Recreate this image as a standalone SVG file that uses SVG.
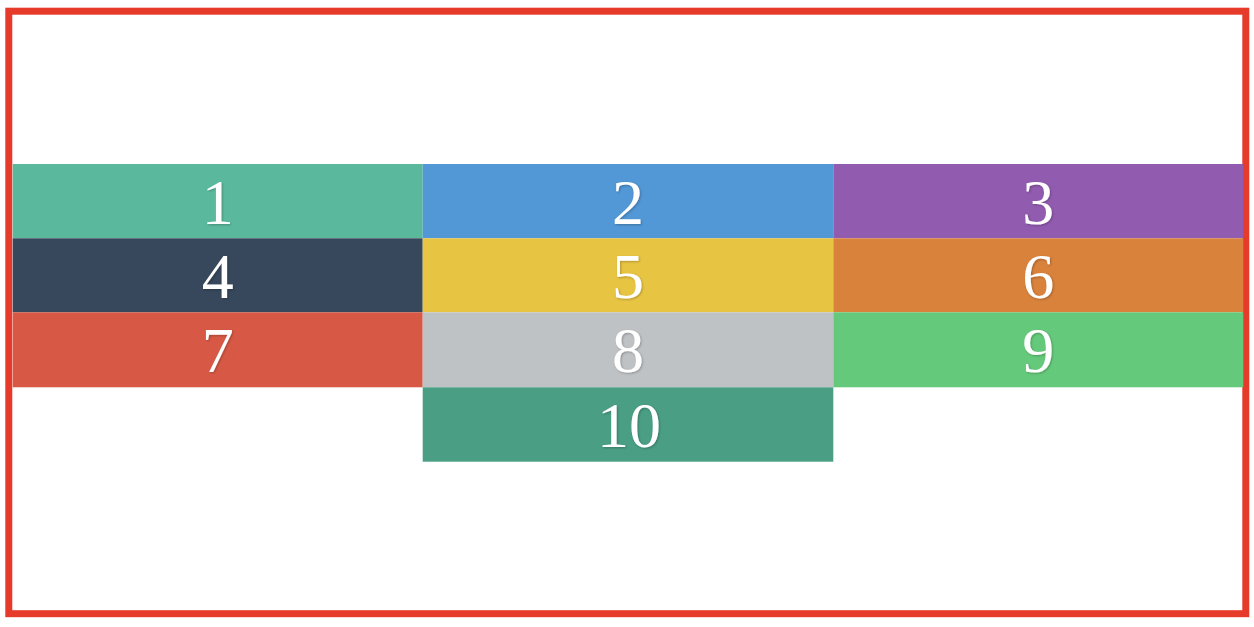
<svg xmlns="http://www.w3.org/2000/svg" width="1254" height="627" viewBox="0 0 1254 627">
  <defs>
    <style>
      .lbl { font-family: "Liberation Serif", "Times New Roman", serif; font-size: 64px; fill: #ffffff; text-anchor: middle; filter: url(#sh); }
    </style>
    <filter id="sh" x="-20%" y="-20%" width="140%" height="140%">
      <feDropShadow dx="1" dy="1" stdDeviation="0.8" flood-color="#000000" flood-opacity="0.25"/>
    </filter>
  </defs>
  <rect width="1254" height="627" fill="#ffffff"/>
  <rect id="frame" x="8.8" y="11.2" width="1237" height="602.5" fill="none" stroke="#e63a2a" stroke-width="7"/>
  <g id="n1"><rect x="12.7" y="164" width="410" height="74.3" fill="#5ab99d"/><text class="lbl" x="217.7" y="223.5">1</text></g>
  <g id="n2"><rect x="422.7" y="164" width="410.6" height="74.3" fill="#5297d6"/><text class="lbl" x="628" y="223.5">2</text></g>
  <g id="n3"><rect x="833.3" y="164" width="410" height="74.3" fill="#915bb0"/><text class="lbl" x="1038.3" y="223.5">3</text></g>
  <g id="n4"><rect x="12.7" y="238.3" width="410" height="74" fill="#37475c"/><text class="lbl" x="217.7" y="297.5">4</text></g>
  <g id="n5"><rect x="422.7" y="238.3" width="410.6" height="74" fill="#e8c443"/><text class="lbl" x="628" y="297.5">5</text></g>
  <g id="n6"><rect x="833.3" y="238.3" width="410" height="74" fill="#d8823c"/><text class="lbl" x="1038.3" y="297.5">6</text></g>
  <g id="n7"><rect x="12.7" y="312.3" width="410" height="75" fill="#d75945"/><text class="lbl" x="217.7" y="372">7</text></g>
  <g id="n8"><rect x="422.7" y="312.3" width="410.6" height="75" fill="#bec2c5"/><text class="lbl" x="628" y="372">8</text></g>
  <g id="n9"><rect x="833.3" y="312.3" width="410" height="75" fill="#65c97b"/><text class="lbl" x="1038.3" y="372">9</text></g>
  <g id="n10"><rect x="422.7" y="387.3" width="410.6" height="74.4" fill="#4a9e84"/><text class="lbl" x="629" y="446.5">10</text></g>
  <g id="connectors"></g>
</svg>
